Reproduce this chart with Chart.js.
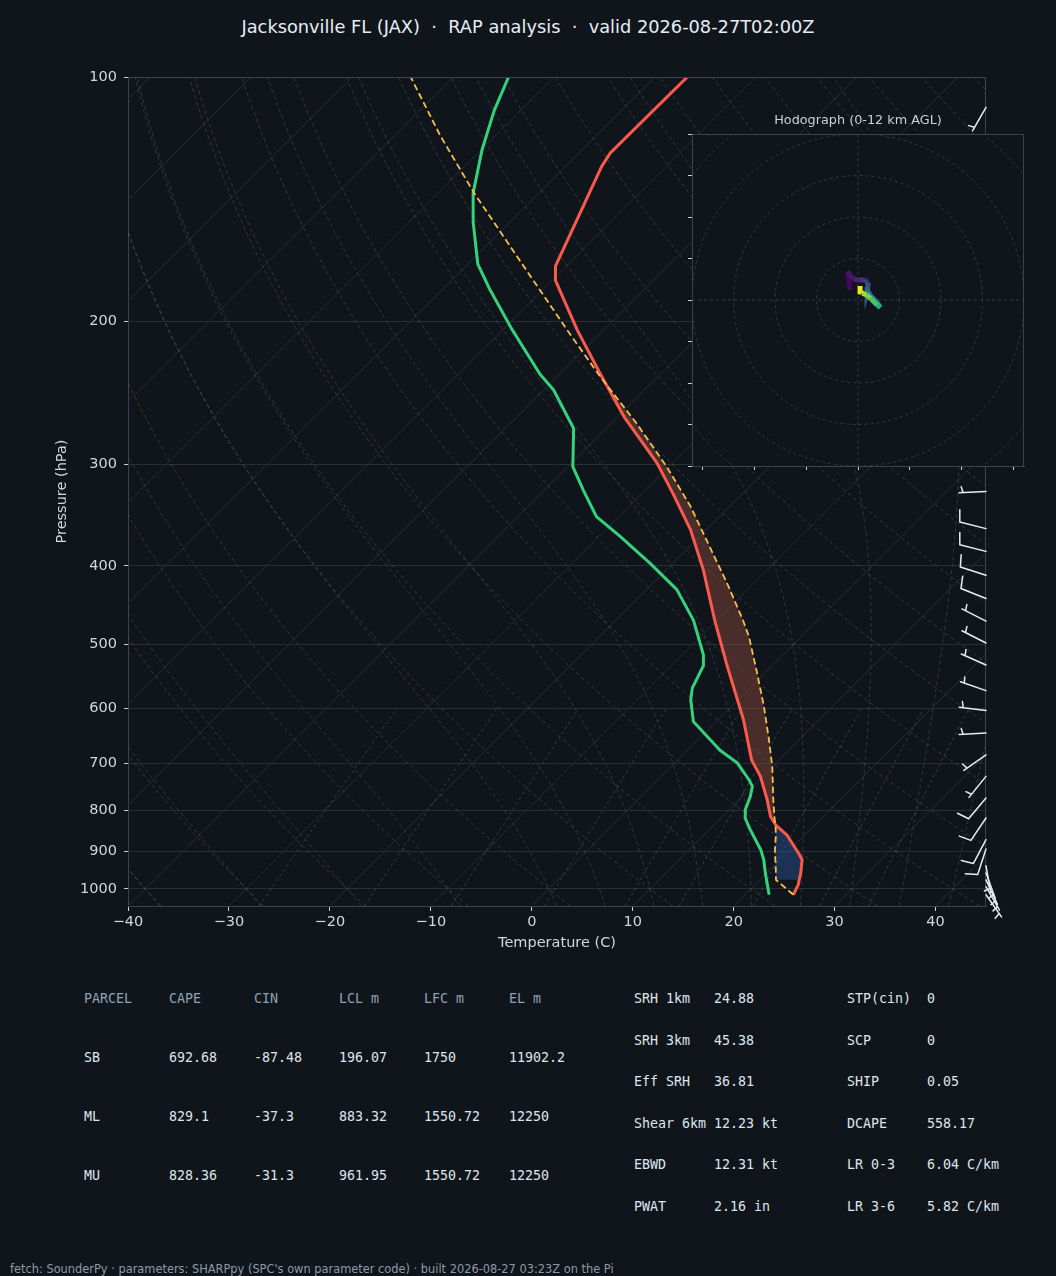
<!DOCTYPE html>
<html>
<head>
<meta charset="utf-8">
<title>Jacksonville FL (JAX) sounding</title>
<script src="https://cdn.jsdelivr.net/npm/chart.js@4.4.1/dist/chart.umd.min.js"></script>
<style>
  html, body { margin: 0; padding: 0; background: #10151c; width: 1056px; height: 1276px; overflow: hidden; }
  body { position: relative; font-family: "DejaVu Sans", sans-serif; color: #e6edf3; }
  #skewWrap { position: absolute; left: 0; top: 0; width: 1056px; height: 970px; }
  #hodoWrap { position: absolute; left: 652px; top: 100px; width: 404px; height: 400px; }
  .main-title { position: absolute; left: 0; top: 16px; width: 1056px; text-align: center; font-size: 17.8px; line-height: 22px; white-space: pre; color: #e6edf3; }
  .hodo-title { position: absolute; left: 692px; top: 112px; width: 332px; text-align: center; font-size: 12.8px; line-height: 16px; white-space: pre; color: #c9d1d9; }
  .cell { position: absolute; font-family: "DejaVu Sans Mono", monospace; font-size: 13.3px; line-height: 16px; white-space: pre; color: #dfe5ec; }
  .cell.head { color: #8fa1b6; }
  .footer { position: absolute; left: 10px; top: 1262px; font-size: 11.4px; line-height: 14px; white-space: pre; color: #8d99a6; }
</style>
</head>
<body>
<div class="main-title">Jacksonville FL (JAX)  ·  RAP analysis  ·  valid 2026-08-27T02:00Z</div>
<div id="skewWrap"><canvas id="skewt" width="1056" height="970"></canvas></div>
<div id="hodoWrap"><canvas id="hodo" width="404" height="400"></canvas></div>
<div class="hodo-title">Hodograph (0-12 km AGL)</div>
<div id="tables"></div>
<div class="footer">fetch: SounderPy · parameters: SHARPpy (SPC's own parameter code) · built 2026-08-27 03:23Z on the Pi</div>

<script>
// Sounding profiles, surface upward (pressure hPa, temperature C)
const tempP = [1017, 989, 975, 957, 921, 904, 858, 834, 815, 777, 727, 694, 619, 532, 467, 405, 361, 326, 299, 262, 232, 205, 178, 171, 129, 124, 100];
const tempT = [24.8, 24.3, 23.9, 23.4, 22.2, 21.2, 18.2, 16.1, 14.8, 12.8, 9.8, 7.3, 2.5, -4.4, -10.2, -16.3, -21.6, -26.9, -31.5, -39.4, -46.0, -52.6, -59.7, -61.1, -66.4, -66.9, -66.8];

const dewP = [1017, 957, 921, 895, 846, 818, 799, 770, 748, 734, 700, 675, 622, 585, 566, 532, 515, 467, 428, 397, 368, 348, 323, 302, 271, 243, 232, 204, 183, 170, 151, 139, 123, 110, 100];
const dewT = [22.4, 19.9, 18.4, 17.1, 14.1, 12.4, 11.6, 10.8, 10.0, 9.0, 6.2, 3.2, -2.3, -4.7, -5.7, -6.8, -7.9, -12.3, -17.0, -22.3, -27.9, -32.2, -36.1, -39.5, -43.2, -49.0, -52.0, -59.3, -65.2, -69.0, -73.6, -76.5, -79.9, -82.6, -84.5];

const parcelP = [1017, 975, 940, 900, 860, 834, 822, 777, 707, 655, 596, 542, 489, 466, 420, 379, 338, 302, 267, 234, 205, 166, 139, 118, 100];
const parcelT = [24.8, 21.6, 20.3, 18.7, 17.2, 16.1, 15.5, 13.4, 10.0, 7.0, 3.2, -0.8, -5.2, -7.5, -12.7, -18.0, -23.9, -30.2, -37.5, -45.7, -53.6, -66.0, -76.4, -85.5, -94.2];

// parcel levels used for shading
const LCL_P = 975, LFC_P = 834, EL_P = 231;

// wind barbs (pressure hPa, direction deg, speed kt)
const windP   = [1017, 994, 975, 956, 937, 893, 870, 818, 773, 727, 684, 643, 603, 570, 530, 498, 468, 439, 411, 384, 360, 324, 109];
const windDir = [145, 150, 155, 160, 170, 198, 208, 214, 220, 219, 235, 267, 277, 289, 294, 297, 297, 292, 288, 284, 284, 267, 210];
const windSpd = [5, 5, 5, 5, 5, 10, 10, 10, 10, 5, 5, 5, 5, 5, 5, 5, 5, 10, 10, 10, 10, 5, 5];

// hodograph (height km AGL, u/v kt)
const hodoH = [0, 0.5, 1.0, 1.5, 2.0, 2.5, 3.0, 4.0, 5.0, 6.0, 7.0, 8.0, 9.0, 10.0, 11.0, 11.5, 12.0];
const hodoU = [-1.9, -2.5, -1.1, 0.5, 1.7, 2.3, 2.4, 2.2, 3.0, 4.3, 5.4, 4.6, 3.0, 2.0, 1.0, 0.7, 0.5];
const hodoV = [2.4, 6.9, 5.0, 4.8, 4.8, 4.3, 3.2, 2.4, 1.0, -0.3, -1.8, -1.2, 0.4, 1.3, 1.6, 2.0, 3.4];

// axis ticks
const pressureTicks = [100, 200, 300, 400, 500, 600, 700, 800, 900, 1000];
const tempTicks = [-40, -30, -20, -10, 0, 10, 20, 30, 40];
const hodoXTicks = [-37.5, -25, -12.5, 0, 12.5, 25, 37.5];
const hodoYTicks = [-40, -30, -20, -10, 0, 10, 20, 30, 40];

// background lines of the diagram
const DRY_T0 = [-40, -30, -20, -10, 0, 10, 20, 30, 40, 50, 60, 70, 80, 90, 100, 110, 120, 130, 140, 150, 160, 170, 180, 190, 200];
const MOIST_T0 = [-40, -30, -20, -10, 0, 5, 10, 15, 20, 25, 30, 35, 40, 45];
const MIX_W = [0.0004, 0.001, 0.002, 0.004, 0.007, 0.01, 0.016, 0.024, 0.032];

// parameter tables
const parcelCols = ['PARCEL', 'CAPE', 'CIN', 'LCL m', 'LFC m', 'EL m'];
const parcelRows = [
    ['SB', '692.68', '-87.48', '196.07', '1750', '11902.2'],
    ['ML', '829.1', '-37.3', '883.32', '1550.72', '12250'],
    ['MU', '828.36', '-31.3', '961.95', '1550.72', '12250']
];
const kinLabels = ['SRH 1km', 'SRH 3km', 'Eff SRH', 'Shear 6km', 'EBWD', 'PWAT'];
const kinValues = ['24.88', '45.38', '36.81', '12.23 kt', '12.31 kt', '2.16 in'];
const idxLabels = ['STP(cin)', 'SCP', 'SHIP', 'DCAPE', 'LR 0-3', 'LR 3-6'];
const idxValues = ['0', '0', '0.05', '558.17', '6.04 C/km', '5.82 C/km'];

const P_BOTTOM = 1050, P_TOP = 100;
const SKEW = 80.5;        // C per decade of pressure -> 45 degree isotherms
const BG = '#10151c';
const GRID = '#262e38';
const FRAME = '#3a4450';
const TXT = '#d0d7de';
const FONT = 'DejaVu Sans';

function skewX(t, p) {
    return t + SKEW * Math.log10(P_BOTTOM / p);
}

function profile(pArr, tArr) {
    return pArr.map((p, i) => ({ x: skewX(tArr[i], p), y: p }));
}

function slice(pArr, tArr, pLo, pHi) {
    const out = [];
    pArr.forEach((p, i) => {
        if (p >= pLo && p <= pHi) out.push({ x: skewX(tArr[i], p), y: p });
    });
    return out;
}

const capeArea = slice(parcelP, parcelT, EL_P, LFC_P).concat(slice(tempP, tempT, EL_P, LFC_P).reverse());
const cinArea = slice(parcelP, parcelT, LFC_P, LCL_P).concat(slice(tempP, tempT, LFC_P, LCL_P).reverse());

function minus(v) {
    return v < 0 ? '\u2212' + Math.abs(v) : String(v);
}

// --- thermodynamic reference curves ---
function dryAdiabat(t0) {
    const pts = [];
    for (let p = P_BOTTOM; p >= P_TOP; p -= 10) {
        pts.push([p, (t0 + 273.15) * Math.pow(p / 1000, 0.2857) - 273.15]);
    }
    return pts;
}

function moistRate(p, tk) {
    const tc = tk - 273.15;
    const es = 6.112 * Math.exp(17.67 * tc / (tc + 243.5));
    const rs = 0.622 * es / (p - es);
    return (287.04 * tk + 2.501e6 * rs) / (p * (1004.6 + 2.501e6 * 2.501e6 * rs * 0.622 / (287.04 * tk * tk)));
}

function moistAdiabat(t0) {
    const h = 5;
    const up = [[1000, t0]];
    let tk = t0 + 273.15;
    for (let p = 1000; p > P_TOP; p -= h) {
        const k1 = moistRate(p, tk);
        const k2 = moistRate(p - h / 2, tk - h / 2 * k1);
        const k3 = moistRate(p - h / 2, tk - h / 2 * k2);
        const k4 = moistRate(p - h, tk - h * k3);
        tk -= h / 6 * (k1 + 2 * k2 + 2 * k3 + k4);
        up.push([p - h, tk - 273.15]);
    }
    const down = [];
    tk = t0 + 273.15;
    for (let p = 1000; p < P_BOTTOM; p += h) {
        const k1 = moistRate(p, tk);
        const k2 = moistRate(p + h / 2, tk + h / 2 * k1);
        const k3 = moistRate(p + h / 2, tk + h / 2 * k2);
        const k4 = moistRate(p + h, tk + h * k3);
        tk += h / 6 * (k1 + 2 * k2 + 2 * k3 + k4);
        down.push([p + h, tk - 273.15]);
    }
    return down.reverse().concat(up);
}

function mixingLine(w) {
    const pts = [];
    for (let p = P_BOTTOM; p >= 600; p -= 10) {
        const e = w * p / (0.622 + w);
        const l = Math.log(e / 6.112);
        pts.push([p, 243.5 * l / (17.67 - l)]);
    }
    return pts;
}

const dryLines = DRY_T0.map(dryAdiabat);
const moistLines = MOIST_T0.map(moistAdiabat);
const mixLines = MIX_W.map(mixingLine);

const skewGrid = {
    id: 'skewGrid',
    beforeDatasetsDraw(chart) {
        const { ctx, chartArea: a, scales } = chart;
        const X = (t, p) => scales.x.getPixelForValue(skewX(t, p));
        const Y = p => scales.y.getPixelForValue(p);
        const curve = (pts, color, dash) => {
            ctx.strokeStyle = color;
            ctx.setLineDash(dash);
            ctx.beginPath();
            pts.forEach(([p, t], i) => i ? ctx.lineTo(X(t, p), Y(p)) : ctx.moveTo(X(t, p), Y(p)));
            ctx.stroke();
        };
        ctx.save();
        ctx.beginPath();
        ctx.rect(a.left, a.top, a.width, a.height);
        ctx.clip();
        ctx.lineWidth = 1;
        for (let t = -120; t <= 40; t += 10) curve([[P_BOTTOM, t], [P_TOP, t]], GRID, []);
        dryLines.forEach(l => curve(l, 'rgba(170,120,60,0.32)', [4, 3]));
        moistLines.forEach(l => curve(l, 'rgba(70,110,140,0.42)', [4, 3]));
        mixLines.forEach(l => curve(l, 'rgba(70,125,140,0.45)', [3, 3]));
        ctx.restore();
    }
};

function drawBarb(ctx, x0, y0, dir, spd) {
    const r = dir * Math.PI / 180;
    const ux = Math.sin(r), uy = -Math.cos(r);
    const nx = -uy, ny = ux;
    const L = 27, B = 12, gap = 4;
    const tx = x0 + ux * L, ty = y0 + uy * L;
    ctx.beginPath();
    ctx.moveTo(x0, y0);
    ctx.lineTo(tx, ty);
    let rest = Math.round(spd / 5) * 5;
    let pos = 0;
    while (rest >= 10) {
        const sx = tx - ux * pos, sy = ty - uy * pos;
        ctx.moveTo(sx, sy);
        ctx.lineTo(sx + nx * B + ux * B * 0.25, sy + ny * B + uy * B * 0.25);
        rest -= 10;
        pos += gap;
    }
    if (rest >= 5) {
        if (pos === 0) pos = gap;
        const sx = tx - ux * pos, sy = ty - uy * pos;
        ctx.moveTo(sx, sy);
        ctx.lineTo(sx + nx * B / 2 + ux * B * 0.125, sy + ny * B / 2 + uy * B * 0.125);
    }
    ctx.stroke();
}

const frameAndBarbs = {
    id: 'frameAndBarbs',
    afterDatasetsDraw(chart) {
        const { ctx, chartArea: a, scales } = chart;
        ctx.save();
        ctx.strokeStyle = FRAME;
        ctx.lineWidth = 1;
        ctx.beginPath();
        ctx.moveTo(a.left, a.top + 0.5);
        ctx.lineTo(a.right, a.top + 0.5);
        ctx.moveTo(a.right - 0.5, a.top);
        ctx.lineTo(a.right - 0.5, a.bottom);
        ctx.stroke();
        ctx.strokeStyle = '#e6edf3';
        ctx.lineWidth = 1.5;
        ctx.lineCap = 'round';
        windP.forEach((p, i) => drawBarb(ctx, a.right, scales.y.getPixelForValue(p), windDir[i], windSpd[i]));
        ctx.restore();
    }
};

new Chart(document.getElementById('skewt'), {
    type: 'scatter',
    data: {
        datasets: [
            { label: 'CAPE', data: capeArea, showLine: true, fill: 'shape', backgroundColor: 'rgba(130,70,55,0.5)', borderWidth: 0, pointRadius: 0, order: 5 },
            { label: 'CIN', data: cinArea, showLine: true, fill: 'shape', backgroundColor: 'rgba(40,80,140,0.5)', borderWidth: 0, pointRadius: 0, order: 5 },
            { label: 'Dewpoint', data: profile(dewP, dewT), showLine: true, borderColor: '#34d27a', borderWidth: 3, pointRadius: 0, borderJoinStyle: 'round', order: 3 },
            { label: 'Temperature', data: profile(tempP, tempT), showLine: true, borderColor: '#fa5a4b', borderWidth: 3, pointRadius: 0, borderJoinStyle: 'round', order: 2 },
            { label: 'Parcel', data: profile(parcelP, parcelT), showLine: true, borderColor: '#f3c14b', borderWidth: 1.8, borderDash: [6.5, 3.5], pointRadius: 0, order: 1 }
        ]
    },
    options: {
        responsive: false,
        animation: false,
        events: [],
        layout: { padding: { left: 40, right: 70, top: 77, bottom: 6 } },
        plugins: { legend: { display: false }, tooltip: { enabled: false } },
        scales: {
            x: {
                type: 'linear', min: -40, max: 45,
                afterBuildTicks: s => { s.ticks = tempTicks.map(v => ({ value: v })); },
                afterFit: s => { s.height = 58; },
                ticks: { color: TXT, font: { family: FONT, size: 14.5 }, padding: 3, callback: v => minus(v) },
                grid: { drawOnChartArea: false, drawTicks: true, tickLength: 5, tickColor: '#c9d1d9' },
                border: { color: FRAME },
                title: { display: true, text: 'Temperature (C)', color: TXT, font: { family: FONT, size: 14.5 }, padding: { top: 0, bottom: 12 } }
            },
            y: {
                type: 'logarithmic', reverse: true, min: P_TOP, max: P_BOTTOM,
                afterBuildTicks: s => { s.ticks = pressureTicks.map(v => ({ value: v })); },
                afterFit: s => { s.width = 88; },
                ticks: { color: TXT, font: { family: FONT, size: 14.5 }, padding: 7, callback: v => String(v) },
                grid: { color: GRID, tickColor: '#c9d1d9', tickLength: 4 },
                border: { color: FRAME },
                title: { display: true, text: 'Pressure (hPa)', color: TXT, font: { family: FONT, size: 14.5 }, padding: { top: 14, bottom: 0 } }
            }
        }
    },
    plugins: [skewGrid, frameAndBarbs]
});

// --- hodograph ---
const viridisStops = [
    [0.0, [68, 1, 84]], [0.125, [71, 44, 122]], [0.25, [59, 82, 139]], [0.375, [44, 114, 142]],
    [0.5, [33, 145, 140]], [0.625, [39, 173, 129]], [0.75, [94, 201, 98]], [0.875, [170, 220, 50]], [1.0, [253, 231, 37]]
];

function viridis(f) {
    f = Math.max(0, Math.min(1, f));
    for (let i = 1; i < viridisStops.length; i++) {
        const [f1, c1] = viridisStops[i];
        const [f0, c0] = viridisStops[i - 1];
        if (f <= f1) {
            const k = (f - f0) / (f1 - f0);
            return 'rgb(' + c0.map((c, j) => Math.round(c + (c1[j] - c) * k)).join(',') + ')';
        }
    }
    return 'rgb(253,231,37)';
}

const hodoDeco = {
    id: 'hodoDeco',
    beforeDraw(chart) {
        const { ctx, chartArea: a } = chart;
        ctx.save();
        ctx.fillStyle = BG;
        ctx.fillRect(a.left, a.top, a.width, a.height);
        ctx.restore();
    },
    beforeDatasetsDraw(chart) {
        const { ctx, chartArea: a, scales } = chart;
        const cx = scales.x.getPixelForValue(0), cy = scales.y.getPixelForValue(0);
        ctx.save();
        ctx.beginPath();
        ctx.rect(a.left, a.top, a.width, a.height);
        ctx.clip();
        ctx.strokeStyle = '#2f3a46';
        ctx.lineWidth = 1;
        ctx.setLineDash([3, 3]);
        for (let r = 10; r <= 60; r += 10) {
            const rp = scales.x.getPixelForValue(r) - cx;
            ctx.beginPath();
            ctx.arc(cx, cy, rp, 0, Math.PI * 2);
            ctx.stroke();
        }
        ctx.beginPath();
        ctx.moveTo(a.left, cy); ctx.lineTo(a.right, cy);
        ctx.moveTo(cx, a.top); ctx.lineTo(cx, a.bottom);
        ctx.stroke();
        ctx.restore();
    },
    afterDatasetsDraw(chart) {
        const { ctx, chartArea: a } = chart;
        ctx.save();
        ctx.strokeStyle = FRAME;
        ctx.lineWidth = 1;
        ctx.beginPath();
        ctx.moveTo(a.left, a.top + 0.5); ctx.lineTo(a.right, a.top + 0.5);
        ctx.moveTo(a.right - 0.5, a.top); ctx.lineTo(a.right - 0.5, a.bottom);
        ctx.stroke();
        ctx.restore();
    }
};

new Chart(document.getElementById('hodo'), {
    type: 'scatter',
    data: {
        datasets: [{
            label: 'Hodograph',
            data: hodoU.map((u, i) => ({ x: u, y: hodoV[i] })),
            showLine: true,
            pointRadius: 0,
            borderWidth: 5,
            borderCapStyle: 'butt',
            borderColor: viridis(0),
            segment: { borderColor: c => viridis((hodoH[c.p0DataIndex] + hodoH[c.p1DataIndex]) / 24) }
        }]
    },
    options: {
        responsive: false,
        animation: false,
        events: [],
        layout: { padding: { left: 0, right: 32, top: 34, bottom: 0 } },
        plugins: { legend: { display: false }, tooltip: { enabled: false } },
        scales: {
            x: {
                type: 'linear', min: -40, max: 40,
                afterBuildTicks: s => { s.ticks = hodoXTicks.map(v => ({ value: v })); },
                afterFit: s => { s.height = 34; },
                ticks: { display: false },
                grid: { drawOnChartArea: false, drawTicks: true, tickLength: 4, tickColor: '#c9d1d9' },
                border: { color: FRAME }
            },
            y: {
                type: 'linear', min: -40, max: 40,
                afterBuildTicks: s => { s.ticks = hodoYTicks.map(v => ({ value: v })); },
                afterFit: s => { s.width = 40; },
                ticks: { display: false },
                grid: { drawOnChartArea: false, drawTicks: true, tickLength: 4, tickColor: '#c9d1d9' },
                border: { color: FRAME }
            }
        }
    },
    plugins: [hodoDeco]
});

// --- parameter tables ---
function addCell(text, x, yc, cls) {
    const el = document.createElement('div');
    el.className = 'cell' + (cls ? ' ' + cls : '');
    el.style.left = x + 'px';
    el.style.top = (yc - 8) + 'px';
    el.textContent = text;
    document.getElementById('tables').appendChild(el);
}

const colX = [84, 169, 254, 339, 424, 509];
parcelCols.forEach((t, i) => addCell(t, colX[i], 999, 'head'));
parcelRows.forEach((row, r) => row.forEach((t, i) => addCell(t, colX[i], 1058 + r * 59, '')));
kinLabels.forEach((t, i) => {
    const yc = 999 + i * 41.6;
    addCell(t, 634, yc, '');
    addCell(kinValues[i], 714, yc, '');
    addCell(idxLabels[i], 847, yc, '');
    addCell(idxValues[i], 927, yc, '');
});
</script>
</body>
</html>
